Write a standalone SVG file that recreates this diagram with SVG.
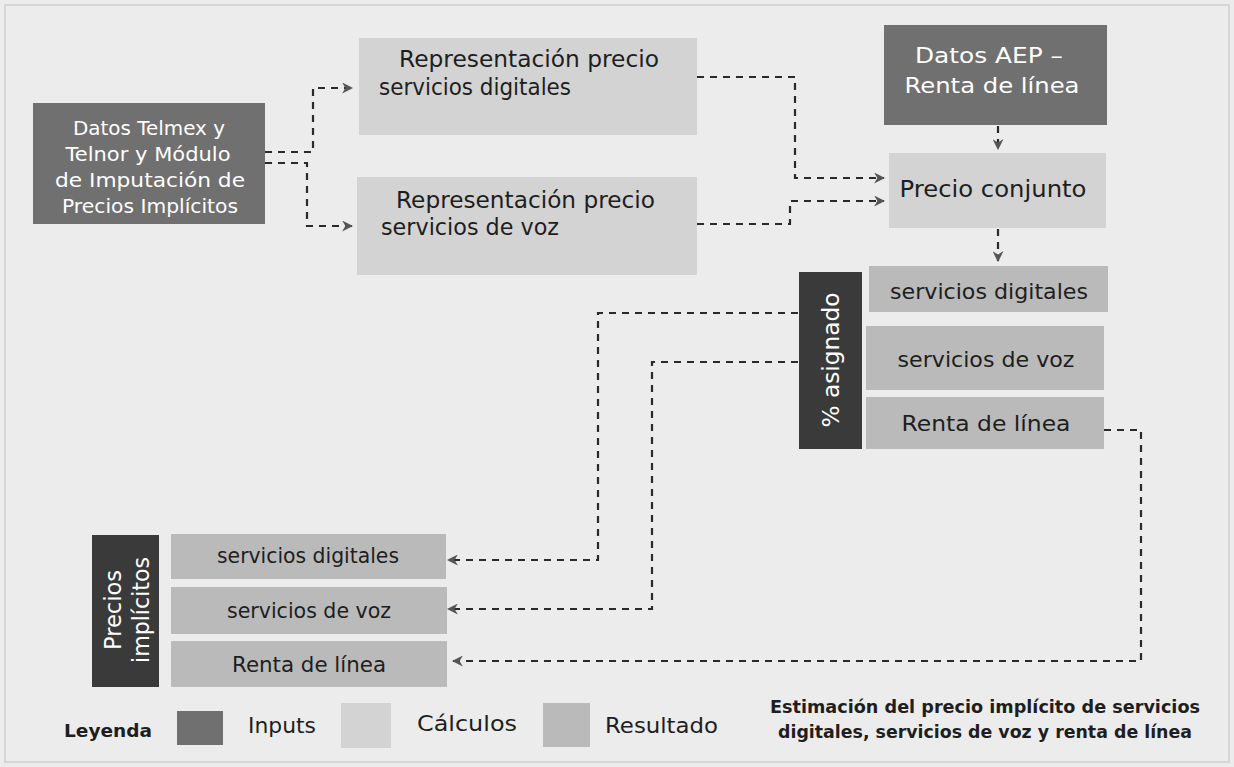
<svg xmlns="http://www.w3.org/2000/svg" width="1234" height="767" viewBox="0 0 1234 767">
<defs>
<marker id="ah" viewBox="0 0 10 10" refX="9" refY="5" markerWidth="11" markerHeight="11" markerUnits="userSpaceOnUse" orient="auto">
<path d="M0,0 L10,5 L0,10 L3,5 Z" fill="#555"/>
</marker>
<style>
.t{font-family:"DejaVu Sans","Liberation Sans",sans-serif;fill:#1e1e1e}
.w{font-family:"DejaVu Sans","Liberation Sans",sans-serif;fill:#fff}
.b{font-weight:bold}
.inp{fill:#707070}
.calc{fill:#d3d3d3}
.res{fill:#bababa}
.lab{fill:#3a3a3a}
.c{fill:none;stroke:#2a2a2a;stroke-width:2.2;stroke-dasharray:7 6}
</style>
</defs>
<rect x="0" y="0" width="1234" height="767" fill="#ececec"/>
<rect x="5" y="5" width="1224" height="757" fill="none" stroke="#d6d6d6" stroke-width="2"/>

<g id="connectors">
<path class="c" d="M265,152 H313 V88 H352" marker-end="url(#ah)"/>
<path class="c" d="M265,163 H307 V226 H352" marker-end="url(#ah)"/>
<path class="c" d="M697,77 H795 V178 H884" marker-end="url(#ah)"/>
<path class="c" d="M697,224 H790 V201 H884" marker-end="url(#ah)"/>
<path class="c" d="M998,126 V149" marker-end="url(#ah)"/>
<path class="c" d="M998,229 V261" marker-end="url(#ah)"/>
<path class="c" d="M798,313 H598 V560 H448" marker-end="url(#ah)"/>
<path class="c" d="M798,362 H652 V609 H448" marker-end="url(#ah)"/>
<path class="c" d="M1104,430 H1141 V661 H453" marker-end="url(#ah)"/>
</g>

<g id="datos-telmex">
<rect class="inp" x="33" y="103" width="232" height="121"/>
<text class="w" font-size="20" text-anchor="middle" x="149" y="135" textLength="152" lengthAdjust="spacingAndGlyphs">Datos Telmex y</text>
<text class="w" font-size="20" text-anchor="middle" x="148" y="161" textLength="165" lengthAdjust="spacingAndGlyphs">Telnor y Módulo</text>
<text class="w" font-size="20" text-anchor="middle" x="150" y="187" textLength="190" lengthAdjust="spacingAndGlyphs">de Imputación de</text>
<text class="w" font-size="20" text-anchor="middle" x="150" y="213" textLength="176" lengthAdjust="spacingAndGlyphs">Precios Implícitos</text>
</g>

<g id="rep-digitales">
<rect class="calc" x="359" y="38" width="338" height="97"/>
<text class="t" font-size="23" x="399" y="67" textLength="260" lengthAdjust="spacingAndGlyphs">Representación precio</text>
<text class="t" font-size="23" x="379" y="95" textLength="192" lengthAdjust="spacingAndGlyphs">servicios digitales</text>
</g>

<g id="rep-voz">
<rect class="calc" x="357" y="177" width="340" height="98"/>
<text class="t" font-size="23" x="396" y="208" textLength="259" lengthAdjust="spacingAndGlyphs">Representación precio</text>
<text class="t" font-size="23" x="381" y="235" textLength="178" lengthAdjust="spacingAndGlyphs">servicios de voz</text>
</g>

<g id="datos-aep">
<rect class="inp" x="884" y="25" width="223" height="100"/>
<text class="w" font-size="22" text-anchor="middle" x="989" y="63" textLength="148" lengthAdjust="spacingAndGlyphs">Datos AEP –</text>
<text class="w" font-size="22" text-anchor="middle" x="992" y="93" textLength="175" lengthAdjust="spacingAndGlyphs">Renta de línea</text>
</g>

<g id="precio-conjunto">
<rect class="calc" x="889" y="153" width="217" height="75"/>
<text class="t" font-size="23" text-anchor="middle" x="993" y="197" textLength="187" lengthAdjust="spacingAndGlyphs">Precio conjunto</text>
</g>

<g id="asignado">
<rect class="lab" x="799" y="272" width="63" height="177"/>
<text class="w" font-size="23" text-anchor="middle" dominant-baseline="central" transform="translate(831,360) rotate(-90)" textLength="135" lengthAdjust="spacingAndGlyphs">% asignado</text>
</g>
<g id="asig-digitales">
<rect class="res" x="869" y="266" width="239" height="46"/>
<text class="t" font-size="21" text-anchor="middle" x="989" y="299" textLength="198" lengthAdjust="spacingAndGlyphs">servicios digitales</text>
</g>
<g id="asig-voz">
<rect class="res" x="866" y="326" width="238" height="64"/>
<text class="t" font-size="21" text-anchor="middle" x="986" y="367" textLength="177" lengthAdjust="spacingAndGlyphs">servicios de voz</text>
</g>
<g id="asig-renta">
<rect class="res" x="866" y="397" width="238" height="52"/>
<text class="t" font-size="21" text-anchor="middle" x="986" y="431" textLength="169" lengthAdjust="spacingAndGlyphs">Renta de línea</text>
</g>

<g id="precios-implicitos">
<rect class="lab" x="92" y="535" width="67" height="152"/>
<text class="w" font-size="23" text-anchor="middle" dominant-baseline="central" transform="translate(113,610) rotate(-90)" textLength="80" lengthAdjust="spacingAndGlyphs">Precios</text>
<text class="w" font-size="23" text-anchor="middle" dominant-baseline="central" transform="translate(141,610) rotate(-90)" textLength="106" lengthAdjust="spacingAndGlyphs">implícitos</text>
</g>
<g id="pi-digitales">
<rect class="res" x="171" y="534" width="275" height="45"/>
<text class="t" font-size="21" text-anchor="middle" x="308" y="563" textLength="182" lengthAdjust="spacingAndGlyphs">servicios digitales</text>
</g>
<g id="pi-voz">
<rect class="res" x="171" y="587" width="276" height="47"/>
<text class="t" font-size="21" text-anchor="middle" x="309" y="618" textLength="164" lengthAdjust="spacingAndGlyphs">servicios de voz</text>
</g>
<g id="pi-renta">
<rect class="res" x="171" y="641" width="276" height="46"/>
<text class="t" font-size="21" text-anchor="middle" x="309" y="672" textLength="154" lengthAdjust="spacingAndGlyphs">Renta de línea</text>
</g>

<g id="legend">
<text class="t b" font-size="17" x="64" y="737" textLength="88" lengthAdjust="spacingAndGlyphs">Leyenda</text>
<rect class="inp" x="177" y="711" width="46" height="34"/>
<text class="t" font-size="22" x="248" y="733" textLength="68" lengthAdjust="spacingAndGlyphs">Inputs</text>
<rect class="calc" x="341" y="703" width="50" height="45"/>
<text class="t" font-size="22" x="417" y="731" textLength="100" lengthAdjust="spacingAndGlyphs">Cálculos</text>
<rect class="res" x="543" y="703" width="47" height="44"/>
<text class="t" font-size="22" x="605" y="733" textLength="113" lengthAdjust="spacingAndGlyphs">Resultado</text>
</g>

<g id="caption">
<text class="t b" font-size="18" x="770" y="713" textLength="430" lengthAdjust="spacingAndGlyphs">Estimación del precio implícito de servicios</text>
<text class="t b" font-size="18" x="778" y="738" textLength="414" lengthAdjust="spacingAndGlyphs">digitales, servicios de voz y renta de línea</text>
</g>
</svg>
